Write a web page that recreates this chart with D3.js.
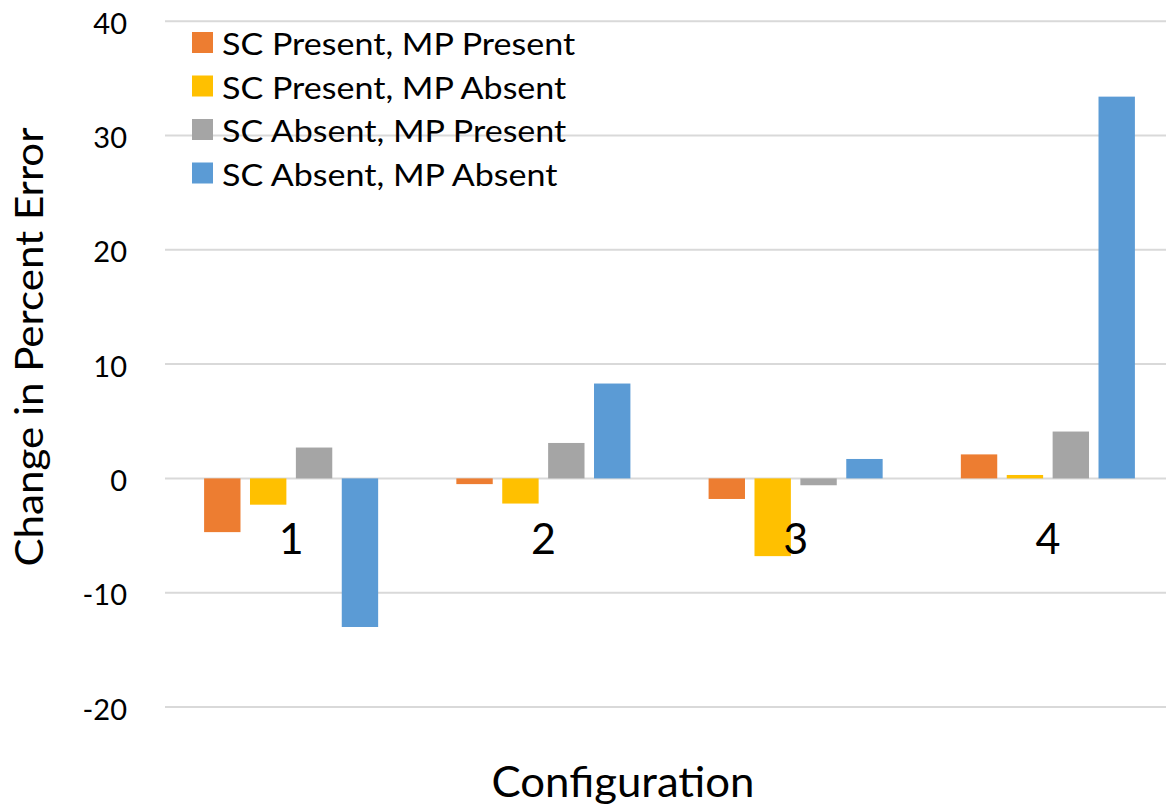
<!DOCTYPE html>
<html>
<head>
<meta charset="utf-8">
<script src="https://cdn.jsdelivr.net/npm/d3@7"></script>
<style>
  html, body { margin: 0; padding: 0; background: #fff; }
  svg { display: block; font-family: Lato, "Open Sans", sans-serif; }
</style>
</head>
<body>
<svg id="chart" width="1166" height="805"></svg>
<script>
// Configurations along the category axis
const categories = ["1", "2", "3", "4"];

// Series (change in percent error per configuration)
const seriesNames = [
  "SC Present, MP Present",
  "SC Present, MP Absent",
  "SC Absent, MP Present",
  "SC Absent, MP Absent"
];
const scPresentMpPresent = [-4.7, -0.5, -1.8, 2.1];
const scPresentMpAbsent  = [-2.3, -2.2, -6.8, 0.3];
const scAbsentMpPresent  = [2.7, 3.1, -0.6, 4.1];
const scAbsentMpAbsent   = [-13.0, 8.3, 1.7, 33.4];

const seriesColors = ["#ED7D31", "#FFC000", "#A5A5A5", "#5B9BD5"];
const yTicks = [-20, -10, 0, 10, 20, 30, 40];
const yTickLabels = ["-20", "-10", "0", "10", "20", "30", "40"];

const seriesValues = [scPresentMpPresent, scPresentMpAbsent, scAbsentMpPresent, scAbsentMpAbsent];

const svg = d3.select("#chart");
const W = 1166, H = 805;
const plot = { left: 165, right: 1174, top: 21.2, bottom: 707 };

const y = d3.scaleLinear().domain([-20, 40]).range([plot.bottom, plot.top]);
const x0 = d3.scaleBand().domain(categories)
  .range([plot.left, plot.right]).paddingInner(0.31).paddingOuter(0.155);
const x1 = d3.scaleBand().domain(d3.range(seriesNames.length))
  .range([0, x0.bandwidth()]).paddingInner(0.207).paddingOuter(0);

// Horizontal gridlines
svg.append("g").selectAll("line").data(yTicks).join("line")
  .attr("x1", plot.left).attr("x2", W)
  .attr("y1", d => y(d)).attr("y2", d => y(d))
  .attr("stroke", "#D9D9D9").attr("stroke-width", 2);

// Y axis tick labels (plain hyphen for negatives)
const yAxis = d3.axisLeft(y).tickValues(yTicks).tickSize(0).tickPadding(0)
  .tickFormat((d, i) => yTickLabels[i]);
const yg = svg.append("g").attr("transform", "translate(127,0)").call(yAxis);
yg.select(".domain").remove();
yg.selectAll("text")
  .attr("font-family", "Lato, 'Open Sans', sans-serif")
  .attr("font-size", 29).attr("fill", "#000")
  .attr("dy", "0.42em").attr("x", 0);

// Bars
const groups = svg.append("g").selectAll("g").data(categories).join("g")
  .attr("transform", c => `translate(${x0(c)},0)`);
groups.selectAll("rect")
  .data((c, ci) => seriesValues.map((vals, si) => ({ si, v: vals[ci] })))
  .join("rect")
  .attr("x", d => x1(d.si))
  .attr("width", x1.bandwidth())
  .attr("y", d => y(Math.max(0, d.v)))
  .attr("height", d => Math.abs(y(d.v) - y(0)))
  .attr("fill", d => seriesColors[d.si]);

// Category labels
svg.append("g").selectAll("text").data(categories).join("text")
  .attr("x", c => x0(c) + x0.bandwidth() / 2)
  .attr("y", 554)
  .attr("text-anchor", "middle")
  .attr("font-size", 43).attr("fill", "#000")
  .text(c => c);

// Axis titles
svg.append("text")
  .attr("transform", "translate(43,347) rotate(-90)")
  .attr("text-anchor", "middle")
  .attr("font-size", 39).attr("fill", "#000")
  .attr("textLength", 439).attr("lengthAdjust", "spacingAndGlyphs")
  .text("Change in Percent Error");

svg.append("text")
  .attr("x", 623).attr("y", 797)
  .attr("text-anchor", "middle")
  .attr("font-size", 42).attr("fill", "#000")
  .attr("textLength", 263).attr("lengthAdjust", "spacingAndGlyphs")
  .text("Configuration");

// Legend
const legend = svg.append("g").selectAll("g").data(seriesNames).join("g")
  .attr("transform", (d, i) => `translate(192,${32 + i * 43.5})`);
legend.append("rect")
  .attr("width", 21).attr("height", 21)
  .attr("fill", (d, i) => seriesColors[i]);
legend.append("text")
  .attr("x", 30).attr("y", 23)
  .attr("font-size", 30).attr("fill", "#000")
  .text(d => d)
  .each(function () {
    // widen the label glyphs slightly to the legend's text width
    const w = this.getComputedTextLength();
    d3.select(this).attr("textLength", w * 1.135).attr("lengthAdjust", "spacingAndGlyphs");
  });
</script>
</body>
</html>
